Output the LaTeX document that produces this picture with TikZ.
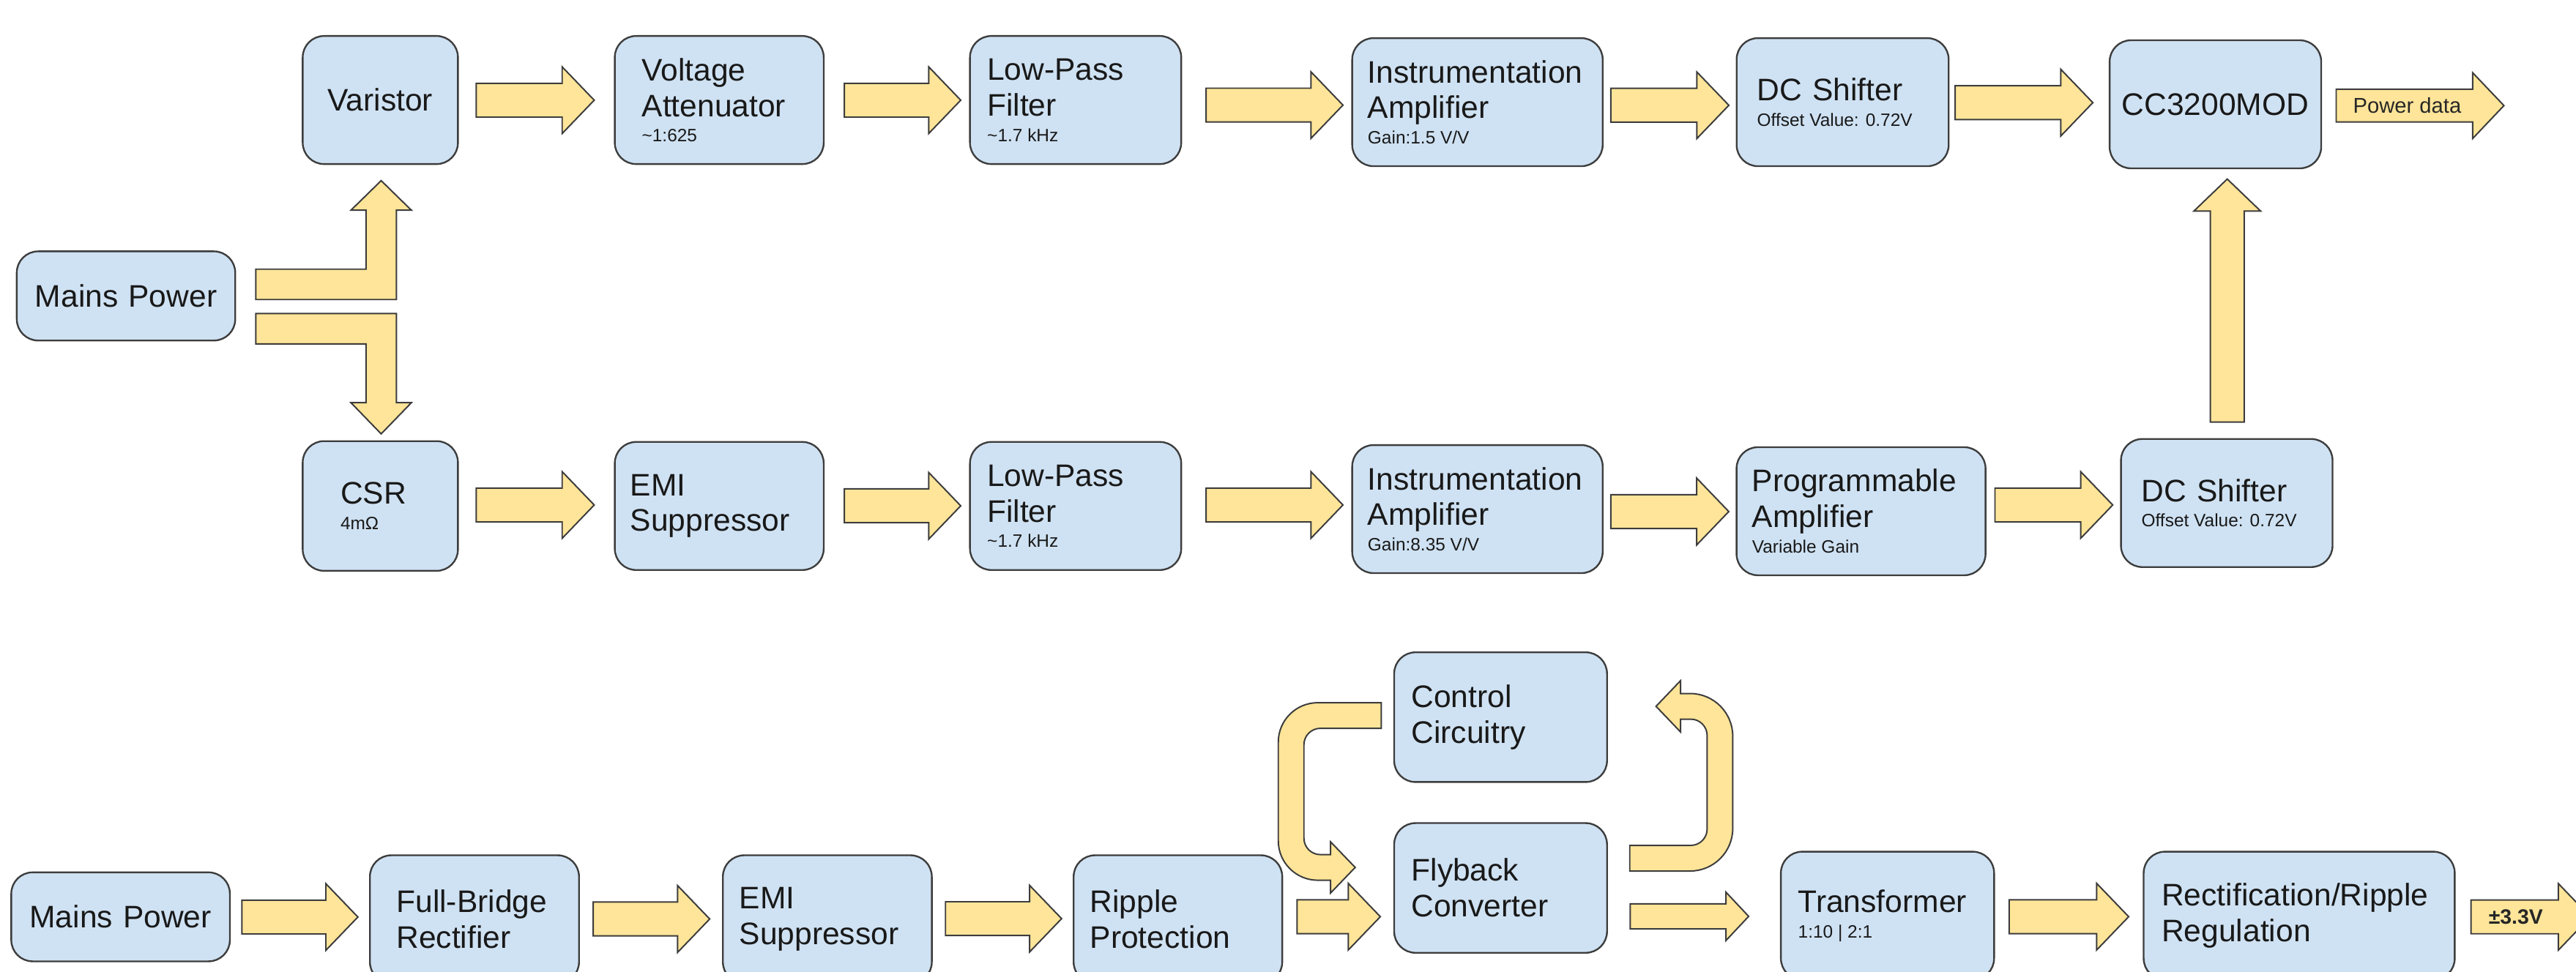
\documentclass[tikz,border=0pt]{standalone}
\usepackage{fontspec}
\setmainfont{Liberation Sans}
\usepackage{tikz}
\usetikzlibrary{calc}
\definecolor{boxblue}{HTML}{CFE2F3}
\definecolor{arrowyellow}{HTML}{FFE599}
\definecolor{edgegray}{HTML}{3D3D3D}
\newlength{\pxu}
\setlength{\pxu}{0.02cm}
\newcommand{\subnote}[1]{\\[-3.6pt]{\fontsize{6.2pt}{7pt}\selectfont\spaceskip=0pt\xspaceskip=0pt\relax #1}}

\begin{document}
\begin{tikzpicture}[x=0.02cm, y=-0.02cm,
    blk/.style={rectangle, rounded corners=0.26cm, draw=edgegray, line width=0.6pt,
        fill=boxblue, text=black!90, font=\fontsize{10.8pt}{12.4pt}\selectfont,
        align=left, inner xsep=0.21cm, inner ysep=0pt, minimum height=1.56cm, text width=#1},
    blk/.default=2.14cm,
    fatarrow/.style={draw=edgegray, fill=arrowyellow, line width=0.5pt},
    fatright/.style args={#1/#2/#3}{to path={let \p1=(\tikztostart), \p2=(\tikztotarget) in
        (\x1,\y1-#1*\pxu) -- (\x2-#3*\pxu,\y1-#1*\pxu) -- (\x2-#3*\pxu,\y1-#2*\pxu) -- (\x2,\y1)
        -- (\x2-#3*\pxu,\y1+#2*\pxu) -- (\x2-#3*\pxu,\y1+#1*\pxu) -- (\x1,\y1+#1*\pxu) -- cycle}},
    fatright/.default=10.3/20.3/19.5,
    fatup/.style args={#1/#2/#3}{to path={let \p1=(\tikztostart), \p2=(\tikztotarget) in
        (\x1-#1*\pxu,\y1) -- (\x1-#1*\pxu,\y2-#3*\pxu) -- (\x1-#2*\pxu,\y2-#3*\pxu) -- (\x1,\y2)
        -- (\x1+#2*\pxu,\y2-#3*\pxu) -- (\x1+#1*\pxu,\y2-#3*\pxu) -- (\x1+#1*\pxu,\y1) -- cycle}},
    fatup/.default=10.3/20.3/19.5,
    outlabel/.style={anchor=west, inner sep=0pt, text=black!85, font=\fontsize{7.4pt}{8pt}\selectfont}]
    \useasboundingbox (0,0) rectangle (1568,591.5);
    \fill[white] (0,0) rectangle (1568,591.5);
    \clip (0,0) rectangle (1568,591.5);

    % Voltage measurement chain
    \node[blk=1.47cm, align=center] (var) at (231.5,60.9) {Varistor};
    \node[blk=1.884cm, inner xsep=0.33cm] (va) at (437.8,60.9) {Voltage\\Attenuator\subnote{\textasciitilde1:625}};
    \node[blk=2.152cm] (lpfa) at (654.7,60.9) {Low-Pass\\Filter\subnote{\textasciitilde1.7 kHz}};
    \node[blk=2.67cm, inner xsep=0.19cm] (iaa) at (899.3,62.2) {Instrumentation\\Amplifier\subnote{Gain:1.5 V/V}};
    \node[blk=2.082cm, inner xsep=0.25cm] (dca) at (1121.6,62.2) {DC Shifter\subnote{Offset Value: 0.72V}};
    \node[blk=2.3cm, inner xsep=0.138cm, align=center] (cc) at (1348.5,63.5) {CC3200MOD};
    \node[blk=2.24cm, align=center, minimum height=1.086cm] (mainsa) at (76.7,180.2) {Mains Power};

    % Current measurement chain
    \node[blk=0.97cm, inner xsep=0.46cm, minimum height=1.58cm] (csr) at (231.5,308.1) {CSR\subnote{4mΩ}};
    \node[blk=2.164cm, inner xsep=0.19cm] (emib) at (437.8,308.1) {EMI\\Suppressor};
    \node[blk=2.152cm] (lpfb) at (654.7,308.1) {Low-Pass\\Filter\subnote{\textasciitilde1.7 kHz}};
    \node[blk=2.67cm, inner xsep=0.19cm] (iab) at (899.3,310) {Instrumentation\\Amplifier\subnote{Gain:8.35 V/V}};
    \node[blk=2.652cm, inner xsep=0.19cm] (pa) at (1132.8,311.3) {Programmable\\Amplifier\subnote{Variable Gain}};
    \node[blk=2.076cm, inner xsep=0.25cm] (dcb) at (1355.4,306.3) {DC Shifter\subnote{Offset Value: 0.72V}};

    % Power supply chain
    \node[blk=2.242cm, align=center, minimum height=1.084cm] (mainsc) at (73.4,558.3) {Mains Power};
    \node[blk=1.9cm, inner xsep=0.323cm] (fbr) at (288.8,559.8) {Full-Bridge\\Rectifier};
    \node[blk=2.144cm, inner xsep=0.2cm] (emic) at (503.6,559.8) {EMI\\Suppressor};
    \node[blk=2.14cm, inner xsep=0.2cm] (rp) at (717,559.8) {Ripple\\Protection};
    \node[blk=2.172cm, minimum height=1.58cm] (ctrl) at (913.4,436.7) {Control\\Circuitry};
    \node[blk=2.172cm, minimum height=1.58cm] (fly) at (913.4,540.7) {Flyback\\Converter};
    \node[blk=2.176cm] (tr) at (1148.9,557.6) {Transformer\subnote{1:10 | 2:1}};
    \node[blk=3.348cm, inner xsep=0.22cm] (rr) at (1399.5,557.6) {Rectification/Ripple\\Regulation};

    % Split of the mains input
    \draw[fatarrow, shift={(mainsa.east)}] (12,-16.3) -- (79.05,-16.3) -- (79.05,-52.2) -- (69.9,-52.2)
        -- (88.3,-70.2) -- (106.7,-52.2) -- (97.55,-52.2) -- (97.55,2.2) -- (12,2.2) -- cycle;
    \draw[fatarrow, shift={(mainsa.east)}] (12,29.25) -- (79.05,29.25) -- (79.05,65) -- (69.9,65)
        -- (88.3,84) -- (106.7,65) -- (97.55,65) -- (97.55,10.75) -- (12,10.75) -- cycle;

    % Voltage chain arrows
    \draw[fatarrow] ($(var.east)+(10.6,0.1)$) to[fatright] ($(va.west)+(-12,0)$);
    \draw[fatarrow] ($(va.east)+(12,0.1)$) to[fatright] ($(lpfa.west)+(-5.1,0)$);
    \draw[fatarrow] ($(lpfa.east)+(14.6,3.1)$) to[fatright] ($(iaa.west)+(-5.1,0)$);
    \draw[fatarrow] ($(iaa.east)+(4.4,1.9)$) to[fatright] ($(dca.west)+(-4.2,0)$);
    \draw[fatarrow] ($(dca.east)+(3.4,0.3)$) to[fatright] ($(cc.west)+(-9.7,0)$);
    \draw[fatarrow] ($(cc.east)+(8.6,0.8)$) to[fatright=10/20/19] ($(cc.east)+(110.7,0)$);
    \node[outlabel] (pdata) at ($(cc.east)+(18.6,0.8)$) {Power data};

    % Current chain arrows
    \draw[fatarrow] ($(csr.east)+(10.6,-0.6)$) to[fatright] ($(emib.west)+(-12,0)$);
    \draw[fatarrow] ($(emib.east)+(12,-0.1)$) to[fatright] ($(lpfb.west)+(-5.1,0)$);
    \draw[fatarrow] ($(lpfb.east)+(14.6,-0.6)$) to[fatright] ($(iab.west)+(-5.1,0)$);
    \draw[fatarrow] ($(iab.east)+(4.4,1.5)$) to[fatright] ($(pa.west)+(-4.2,0)$);
    \draw[fatarrow] ($(pa.east)+(5.2,-3.8)$) to[fatright] ($(dcb.west)+(-4.5,0)$);
    \draw[fatarrow] ($(dcb.north)+(0.3,-9.8)$) to[fatup] ($(cc.south)+(0,6)$);

    % Supply chain arrows
    \draw[fatarrow] ($(mainsc.east)+(6.8,0.1)$) to[fatright] ($(fbr.west)+(-6.8,0)$);
    \draw[fatarrow] ($(fbr.east)+(8.1,-0.2)$) to[fatright] ($(emic.west)+(-7.5,0)$);
    \draw[fatarrow] ($(emic.east)+(7.8,-0.4)$) to[fatright] ($(rp.west)+(-6.8,0)$);
    \draw[fatarrow] ($(rp.east)+(8.5,-1.6)$) to[fatright] ($(fly.west)+(-7.9,0)$);
    \draw[fatarrow] ($(fly.east)+(13.6,17.3)$) to[fatright=7.6/14.7/13.8] ($(tr.west)+(-19.1,0)$);
    \draw[fatarrow] ($(tr.east)+(8.6,0.6)$) to[fatright] ($(rr.west)+(-8.6,0)$);
    \draw[fatarrow] ($(rr.east)+(9.4,0.7)$) to[fatright] ($(rr.east)+(82,0)$);
    \node[outlabel, font=\fontsize{7.2pt}{8pt}\selectfont\bfseries] (vout) at ($(rr.east)+(19.8,0.7)$) {±3.3V};

    % Feedback loop between converter and control
    \draw[fatarrow, shift={(ctrl.west)}] (-7.3,-8.8) -- (-46,-8.8)
        .. controls (-59.25,-8.8) and (-70,1.95) .. (-70,15.2) -- (-70,75.3)
        .. controls (-70,88.55) and (-59.25,99.3) .. (-46,99.3) -- (-38.2,99.3) -- (-38.2,107.1)
        -- (-23.2,91.5) -- (-38.2,75.9) -- (-38.2,83.7) -- (-44.4,83.7)
        .. controls (-49.92,83.7) and (-54.4,79.22) .. (-54.4,73.7) -- (-54.4,16.8)
        .. controls (-54.4,11.28) and (-49.92,6.8) .. (-44.4,6.8) -- (-7.3,6.8) -- cycle;
    \draw[fatarrow, shift={(fly.east)}] (13.3,-10.3) -- (50,-10.3)
        .. controls (64.36,-10.3) and (76,-21.94) .. (76,-36.3) -- (76,-92.4)
        .. controls (76,-106.76) and (64.36,-118.4) .. (50,-118.4) -- (44.2,-118.4) -- (44.2,-126.2)
        -- (29.3,-110.6) -- (44.2,-95) -- (44.2,-102.8) -- (50.4,-102.8)
        .. controls (55.92,-102.8) and (60.4,-98.32) .. (60.4,-92.8) -- (60.4,-35.9)
        .. controls (60.4,-30.38) and (55.92,-25.9) .. (50.4,-25.9) -- (13.3,-25.9) -- cycle;
\end{tikzpicture}
\end{document}
